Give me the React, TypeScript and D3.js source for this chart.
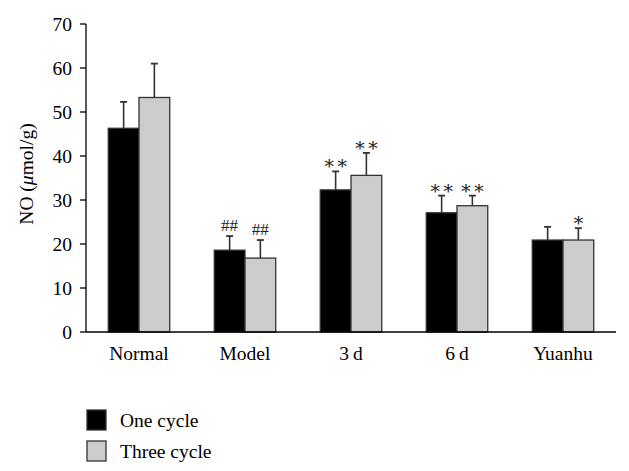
import React from "react";
import * as d3 from "d3";

const categories = ["Normal", "Model", "3\u2009d", "6\u2009d", "Yuanhu"];
const seriesNames = ["One cycle", "Three cycle"];
const oneCycle = [46.3, 18.6, 32.3, 27.1, 20.9];
const oneCycleErr = [6.0, 3.2, 4.2, 3.9, 3.0];
const threeCycle = [53.3, 16.8, 35.6, 28.7, 20.9];
const threeCycleErr = [7.7, 4.1, 5.1, 2.3, 2.7];
const oneCycleMarks = ["", "##", "∗∗", "∗∗", ""];
const threeCycleMarks = ["", "##", "∗∗", "∗∗", "∗"];
const yTicks = [0, 10, 20, 30, 40, 50, 60, 70];

const W = 629;
const H = 471;
const FONT = "'Liberation Serif', 'DejaVu Serif', serif";
const FS = 19.5;

export default function App() {
  const x0 = d3.scaleBand<string>().domain(categories).range([86, 616]).paddingInner(0.42).paddingOuter(0.21);
  const x1 = d3.scaleBand<string>().domain(seriesNames).range([0, x0.bandwidth()]);
  const y = d3.scaleLinear().domain([0, 70]).range([332, 24]);
  const fills = ["#000000", "#cccccc"];
  const values = [oneCycle, threeCycle];
  const errs = [oneCycleErr, threeCycleErr];
  const marks = [oneCycleMarks, threeCycleMarks];
  const bw = x1.bandwidth();

  return (
    <svg width={W} height={H} style={{ position: "absolute", left: 0, top: 0, background: "#fff" }} fontFamily={FONT}>
      {/* y axis */}
      <line x1={86} x2={86} y1={y(70)} y2={y(0)} stroke="#000" strokeWidth={1.3} />
      {yTicks.map((t) => (
        <g key={t}>
          <line x1={80} x2={86} y1={y(t)} y2={y(t)} stroke="#000" strokeWidth={1.3} />
          <text x={72} y={y(t)} dy="0.35em" textAnchor="end" fontSize={FS}>
            {t}
          </text>
        </g>
      ))}
      <text
        transform={`translate(26,${174}) rotate(-90)`}
        textAnchor="middle"
        fontSize={FS}
        dy="0.35em"
      >
        NO (<tspan fontStyle="italic">μ</tspan>mol/g)
      </text>
      {/* bars */}
      {categories.map((c, i) => (
        <g key={c} transform={`translate(${x0(c)},0)`}>
          {seriesNames.map((s, j) => {
            const v = values[j][i];
            const e = errs[j][i];
            const bx = x1(s)!;
            const cx = bx + bw / 2;
            const m = marks[j][i];
            const isHash = m.startsWith("#");
            const glyphs = isHash ? [m] : m.split("");
            const n = glyphs.length;
            return (
              <g key={s}>
                <line x1={cx} x2={cx} y1={y(v)} y2={y(v + e)} stroke="#333" strokeWidth={1.6} />
                <line x1={cx - 3.5} x2={cx + 3.5} y1={y(v + e)} y2={y(v + e)} stroke="#333" strokeWidth={1.8} />
                <rect x={bx} y={y(v)} width={bw} height={y(0) - y(v)} fill={fills[j]} stroke="#333" strokeWidth={1.3} />
                {m &&
                  glyphs.map((g, k) => (
                    <text
                      key={k}
                      x={cx + (k - (n - 1) / 2) * 13}
                      y={y(v + e) - (isHash ? 5 : 2)}
                      textAnchor="middle"
                      fontSize={isHash ? 17 : 19}
                      fill="#222"
                    >
                      {g}
                    </text>
                  ))}
              </g>
            );
          })}
        </g>
      ))}
      {/* x axis */}
      <line x1={86} x2={616} y1={y(0)} y2={y(0)} stroke="#000" strokeWidth={1.3} />
      {categories.map((c) => (
        <text key={c} x={x0(c)! + x0.bandwidth() / 2} y={360} textAnchor="middle" fontSize={FS}>
          {c}
        </text>
      ))}
      {/* legend */}
      {seriesNames.map((s, j) => (
        <g key={s} transform={`translate(87,${410 + j * 31})`}>
          <rect x={0} y={0} width={19} height={20} fill={fills[j]} stroke="#333" strokeWidth={1.3} />
          <text x={33} y={10} dy="0.35em" fontSize={FS}>
            {s}
          </text>
        </g>
      ))}
    </svg>
  );
}
